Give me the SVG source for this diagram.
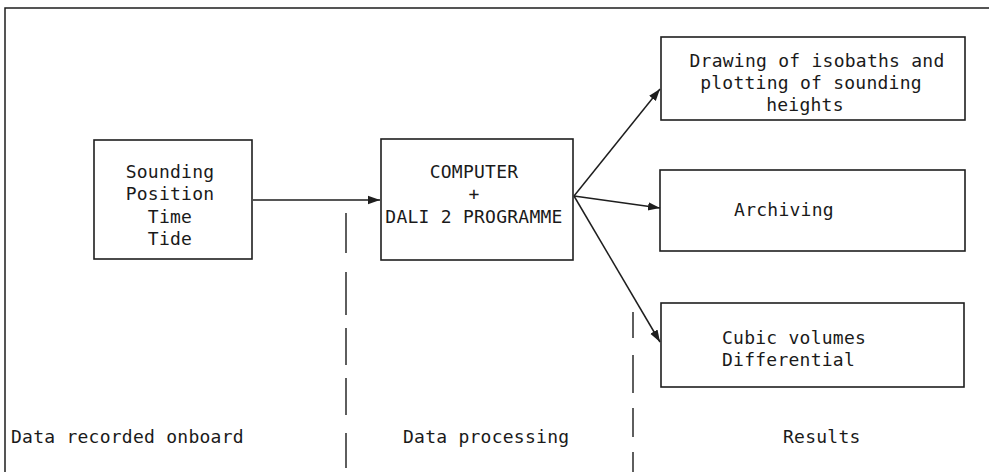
<svg xmlns="http://www.w3.org/2000/svg" width="989" height="472" viewBox="0 0 989 472">
<defs>
<style>
.box{fill:none;stroke:#1e1e1e;stroke-width:1.6}
.ln{fill:none;stroke:#1e1e1e;stroke-width:1.5}
.dash{fill:none;stroke:#2a2a2a;stroke-width:1.5}
text{font-family:"DejaVu Sans Mono","Liberation Mono",monospace;font-size:18px;letter-spacing:0.25px;fill:#1a1a1a}
.c{text-anchor:middle}
</style>
<marker id="ah" viewBox="0 0 10 10" refX="10" refY="5" markerWidth="12" markerHeight="12" markerUnits="userSpaceOnUse" orient="auto">
<path d="M0,1.5 L10,5 L0,8.5 Z" fill="#1e1e1e"/>
</marker>
</defs>
<rect width="989" height="472" fill="#fff"/>
<g id="frame">
<path class="ln" d="M5,472 V8 H989"/>
</g>
<g id="dividers">
<path class="dash" d="M346,213 V253 M346,272 V315 M346,328 V365 M346,378 V415 M346,433 V468"/>
<path class="dash" d="M633,312 V338 M633,355 V393 M633,408 V437 M633,452 V472"/>
</g>
<g id="connectors">
<line class="ln" x1="253" y1="200" x2="380" y2="200" marker-end="url(#ah)"/>
<line class="ln" x1="574" y1="196" x2="660" y2="89" marker-end="url(#ah)"/>
<line class="ln" x1="574" y1="196" x2="660" y2="208" marker-end="url(#ah)"/>
<line class="ln" x1="574" y1="196" x2="660" y2="342" marker-end="url(#ah)"/>
</g>
<g id="node-input">
<rect class="box" x="94" y="140" width="158" height="119"/>
<text class="c" x="170" y="178">Sounding</text>
<text class="c" x="170" y="200">Position</text>
<text class="c" x="170" y="223">Time</text>
<text class="c" x="170" y="245">Tide</text>
</g>
<g id="node-computer">
<rect class="box" x="381" y="139" width="192" height="121"/>
<text class="c" x="474" y="178">COMPUTER</text>
<text class="c" x="474" y="200">+</text>
<text class="c" x="474" y="223">DALI 2 PROGRAMME</text>
</g>
<g id="node-isobaths">
<rect class="box" x="661" y="37" width="304" height="83"/>
<text class="c" x="817" y="67">Drawing of isobaths and</text>
<text class="c" x="811" y="89">plotting of sounding</text>
<text class="c" x="805" y="111">heights</text>
</g>
<g id="node-archiving">
<rect class="box" x="660" y="170" width="305" height="81"/>
<text class="c" x="784" y="216">Archiving</text>
</g>
<g id="node-cubic">
<rect class="box" x="661" y="303" width="303" height="84"/>
<text x="722" y="344">Cubic volumes</text>
<text x="722" y="366">Differential</text>
</g>
<g id="labels">
<text x="11" y="443">Data recorded onboard</text>
<text x="403" y="443">Data processing</text>
<text x="783" y="443">Results</text>
</g>
</svg>
